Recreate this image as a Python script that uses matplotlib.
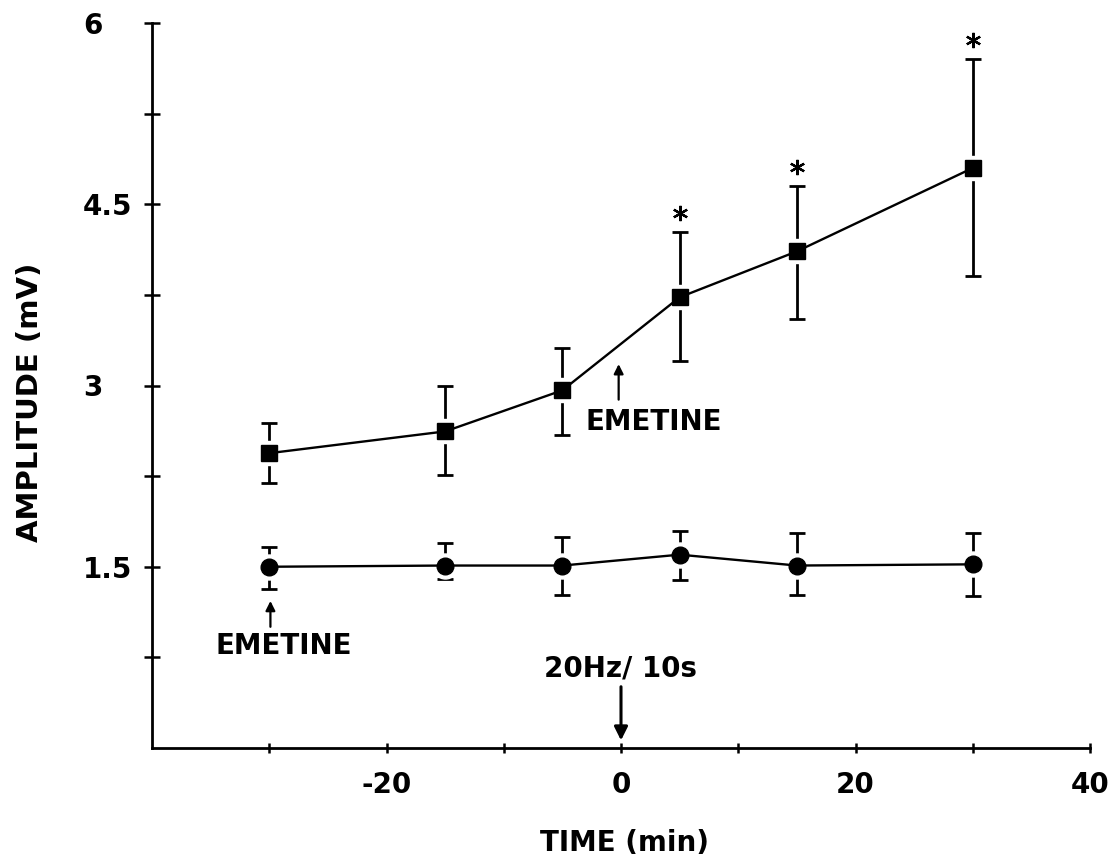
import matplotlib
matplotlib.use("Agg")
import matplotlib.pyplot as plt
import numpy as np

plt.rcParams['font.family'] = ['DejaVu Sans']
plt.rcParams['font.weight'] = 'bold'

time = [-30, -15, -5, 5, 15, 30]
sq_mean = [2.44, 2.62, 2.96, 3.73, 4.11, 4.80]
sq_top = [2.69, 3.00, 3.31, 4.27, 4.65, 5.70]
sq_bot = [2.19, 2.26, 2.59, 3.20, 3.55, 3.91]
ci_mean = [1.50, 1.51, 1.51, 1.60, 1.51, 1.52]
ci_top = [1.66, 1.70, 1.75, 1.80, 1.78, 1.78]
ci_bot = [1.32, 1.40, 1.27, 1.39, 1.27, 1.26]
star_times = [5, 15, 30]

xticks_major = [-20, 0, 20, 40]
xticks_minor = [-30, -10, 10, 30]
yticks_major = [1.5, 3, 4.5, 6]
ytick_labels = ['1.5', '3', '4.5', '6']
yticks_minor = [0.75, 2.25, 3.75, 5.25]

fig = plt.figure(figsize=(11.2, 8.64), dpi=100)
ax = fig.add_axes([152/1120, 1-748/864, (1090-152)/1120, (748-23)/864])
ax.set_xlim(-40, 40)
ax.set_ylim(0, 6)

def series(mean, top, bot, marker, ms):
    m = np.array(mean); t = np.array(top); b = np.array(bot)
    ax.errorbar(time, m, yerr=[m - b, t - m], fmt='none', ecolor='black',
                elinewidth=2, capsize=6, capthick=2, zorder=1)
    ax.plot(time, m, linestyle='none', marker=marker, ms=ms + 6,
            mfc='white', mec='white', zorder=2)
    ax.plot(time, m, color='black', lw=1.7, marker=marker, ms=ms,
            mfc='black', mec='black', zorder=3)

series(sq_mean, sq_top, sq_bot, 's', 11)
series(ci_mean, ci_top, ci_bot, 'o', 12)

star_y = [sq_top[time.index(t)] + 0.16 for t in star_times]
ax.plot(star_times, star_y, linestyle='none', marker=(6, 2, 0), ms=11,
        mew=1.6, color='black', zorder=3)

for s in ['top', 'right']:
    ax.spines[s].set_visible(False)
for s in ['left', 'bottom']:
    ax.spines[s].set_linewidth(2)

ax.set_xticks(xticks_major)
ax.set_xticklabels([str(v) for v in xticks_major])
ax.set_xticks(xticks_minor, minor=True)
ax.set_yticks(yticks_major)
ax.set_yticklabels(ytick_labels, ha='left')
ax.set_yticks(yticks_minor, minor=True)
ax.tick_params(axis='both', which='both', direction='inout', width=1.8,
               labelsize=20)
ax.tick_params(axis='y', which='both', length=11, pad=44)
ax.tick_params(axis='x', which='both', length=7, pad=13)

ax.set_xlabel('TIME (min)', fontsize=20, fontweight='bold', va='top')
ax.xaxis.set_label_coords(0.504, -0.112)
ax.set_ylabel('AMPLITUDE (mV)', fontsize=21, fontweight='bold')
ax.yaxis.set_label_coords(-0.115, 0.477)

# annotations
ax.annotate('', xy=(-29.9, 1.24), xytext=(-29.9, 0.98),
            arrowprops=dict(arrowstyle='-|>', color='black', lw=1.6,
                            mutation_scale=14))
ax.text(-28.8, 0.84, 'EMETINE', ha='center', va='center', fontsize=20,
        fontweight='bold')
ax.annotate('', xy=(-0.2, 3.20), xytext=(-0.2, 2.86),
            arrowprops=dict(arrowstyle='-|>', color='black', lw=1.6,
                            mutation_scale=14))
ax.text(-3.0, 2.70, 'EMETINE', ha='left', va='center', fontsize=20,
        fontweight='bold')
ax.text(0, 0.66, '20Hz/ 10s', ha='center', va='center', fontsize=20,
        fontweight='bold')
ax.annotate('', xy=(0, 0.04), xytext=(0, 0.53),
            arrowprops=dict(arrowstyle='-|>', color='black', lw=2.2,
                            mutation_scale=20))

fig.savefig('out.png', dpi=100)
